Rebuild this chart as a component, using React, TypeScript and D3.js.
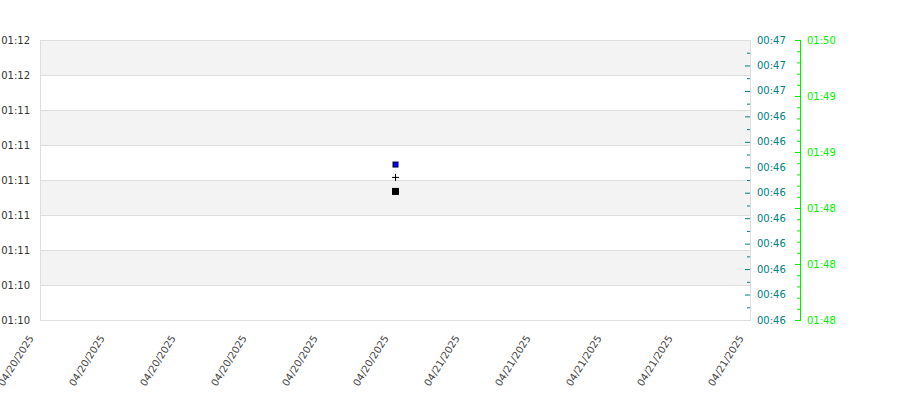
import React from "react";
import * as d3 from "d3";

// ---- data ----
const xTickTimes: string[] = [
  "2025-04-20T18:30:00Z", "2025-04-20T19:30:00Z", "2025-04-20T20:30:00Z",
  "2025-04-20T21:30:00Z", "2025-04-20T22:30:00Z", "2025-04-20T23:30:00Z",
  "2025-04-21T00:30:00Z", "2025-04-21T01:30:00Z", "2025-04-21T02:30:00Z",
  "2025-04-21T03:30:00Z", "2025-04-21T04:30:00Z",
];
// left axis: seconds since midnight
const leftDomain: [number, number] = [4235, 4335];
const leftTicks: number[] = [4235, 4247.5, 4260, 4272.5, 4285, 4297.5, 4310, 4322.5, 4335];
// teal axis
const tealDomain: [number, number] = [2762, 2839];
const tealTicks: number[] = [2762, 2769, 2776, 2783, 2790, 2797, 2804, 2811, 2818, 2825, 2832, 2839];
// green axis
const greenDomain: [number, number] = [6485, 6610];
const greenTicks: number[] = [6485, 6510, 6535, 6560, 6585, 6610];

// points (all on left axis)
const pointTime = "2025-04-20T23:30:00Z";
const bluePoint: number[] = [4290.7];
const plusPoint: number[] = [4286.1];
const blackPoint: number[] = [4281.1];

const W = 900, H = 400;
const M = { left: 40, right: 750, top: 40, bottom: 320 };

const fmtHM = (s: number) => {
  const h = Math.floor(s / 3600);
  const m = Math.floor((s % 3600) / 60);
  return `${String(h).padStart(2, "0")}:${String(m).padStart(2, "0")}`;
};
const fmtDate = d3.utcFormat("%m/%d/%Y");

export default function App() {
  const xDates = xTickTimes.map((t) => new Date(t));
  const x = d3.scaleUtc().domain([xDates[0], xDates[xDates.length - 1]]).range([M.left, M.right]);
  const yL = d3.scaleLinear().domain(leftDomain).range([M.bottom, M.top]);
  const yT = d3.scaleLinear().domain(tealDomain).range([M.bottom, M.top]);
  const yG = d3.scaleLinear().domain(greenDomain).range([M.bottom, M.top]);

  const font = "DejaVu Sans, sans-serif";
  const teal = "#008080";
  const green = "#00ee00";

  const bands = leftTicks.slice(0, -1).map((t, i) => ({ y0: yL(leftTicks[i + 1]), y1: yL(t), i }));

  const tealMinor = tealTicks.slice(0, -1).map((t, i) => (t + tealTicks[i + 1]) / 2);
  const greenMinor: number[] = [];
  greenTicks.slice(0, -1).forEach((t, i) => {
    const step = (greenTicks[i + 1] - t) / 5;
    for (let k = 1; k < 5; k++) greenMinor.push(t + k * step);
  });

  const px = x(new Date(pointTime));

  return (
    <svg width={W} height={H} style={{ position: "absolute", left: 0, top: 0 }} fontFamily={font}>
      <rect x={0} y={0} width={W} height={H} fill="#fff" />
      {bands.map((b) =>
        b.i % 2 === 1 ? (
          <rect key={b.i} x={M.left} y={b.y0} width={M.right - M.left} height={b.y1 - b.y0} fill="#f3f3f3" />
        ) : null
      )}
      {leftTicks.map((t, i) => (
        <line key={i} x1={M.left} x2={M.right} y1={yL(t) + 0.5} y2={yL(t) + 0.5} stroke="#dddddd" />
      ))}
      <rect x={M.left + 0.5} y={M.top + 0.5} width={M.right - M.left} height={M.bottom - M.top} fill="none" stroke="#dddddd" />

      {leftTicks.map((t, i) => (
        <text key={i} x={30} y={yL(t)} dy="0.35em" textAnchor="end" fontSize={10} fill="#333">
          {fmtHM(t)}
        </text>
      ))}

      {xDates.map((d, i) => (
        <text
          key={i}
          transform={`translate(${x(d) - 6},${M.bottom + 18}) rotate(-58)`}
          textAnchor="end"
          fontSize={10}
          fill="#444"
        >
          {fmtDate(d)}
        </text>
      ))}

      {tealTicks.map((t, i) => (
        <g key={i}>
          {i > 0 && i < tealTicks.length - 1 ? (
            <line x1={M.right - 5} x2={M.right} y1={yT(t) + 0.5} y2={yT(t) + 0.5} stroke={teal} />
          ) : null}
          <text x={757} y={yT(t)} dy="0.35em" fontSize={10} fill={teal}>
            {fmtHM(t)}
          </text>
        </g>
      ))}
      {tealMinor.map((t, i) => (
        <line key={i} x1={M.right - 3} x2={M.right} y1={yT(t) + 0.5} y2={yT(t) + 0.5} stroke={teal} />
      ))}

      <line x1={800.5} x2={800.5} y1={M.top} y2={M.bottom + 1} stroke={green} />
      {greenTicks.map((t, i) => (
        <g key={i}>
          <line x1={795} x2={800} y1={yG(t) + 0.5} y2={yG(t) + 0.5} stroke={green} />
          <text x={807} y={yG(t)} dy="0.35em" fontSize={10} fill={green}>
            {fmtHM(t)}
          </text>
        </g>
      ))}
      {greenMinor.map((t, i) => (
        <line key={i} x1={797} x2={800} y1={yG(t) + 0.5} y2={yG(t) + 0.5} stroke={green} />
      ))}

      {bluePoint.map((v, i) => (
        <rect key={i} x={px - 2} y={yL(v) - 2} width={5} height={5} fill="#0000ff" stroke="#000033" strokeWidth={1} />
      ))}
      {plusPoint.map((v, i) => (
        <path key={i} d={`M${px - 3},${yL(v) + 0.5}H${px + 4}M${px + 0.5},${yL(v) - 3}V${yL(v) + 4}`} stroke="#000" strokeWidth={1} />
      ))}
      {blackPoint.map((v, i) => (
        <rect key={i} x={px - 3} y={yL(v) - 3} width={7} height={7} fill="#000" />
      ))}
    </svg>
  );
}
